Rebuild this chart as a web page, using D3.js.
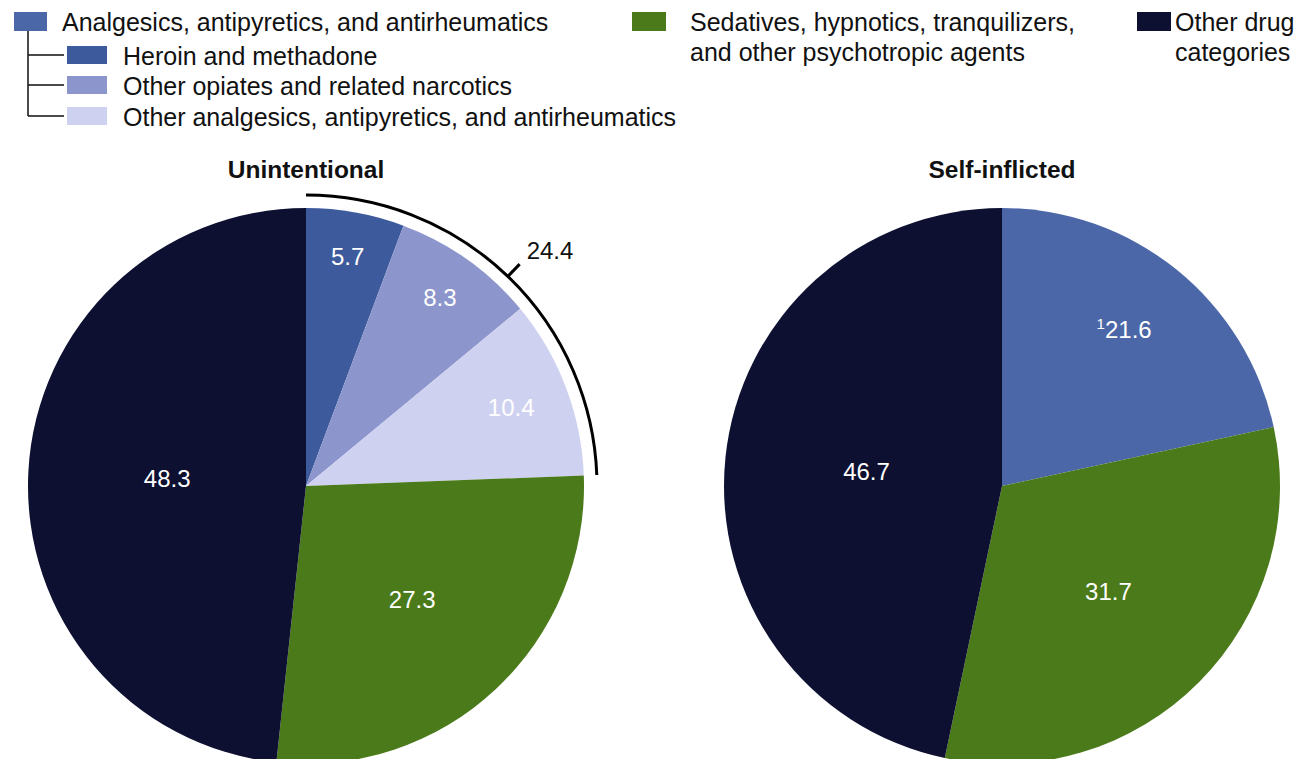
<!DOCTYPE html>
<html>
<head>
<meta charset="utf-8">
<script src="https://cdn.jsdelivr.net/npm/d3@7"></script>
<style>
  html, body { margin: 0; padding: 0; background: #ffffff; }
  svg { display: block; font-family: "Liberation Sans", Arial, sans-serif; }
</style>
</head>
<body>
<svg id="chart" width="1305" height="759"></svg>
<script>
// Drug categories and colours
const categories = [
  "Heroin and methadone",
  "Other opiates and related narcotics",
  "Other analgesics, antipyretics, and antirheumatics",
  "Sedatives, hypnotics, tranquilizers, and other psychotropic agents",
  "Other drug categories"
];
const analgesicGroup = "Analgesics, antipyretics, and antirheumatics";

// Percent of poisoning deaths, unintentional (analgesics split into sub-groups)
const unintentionalKeys   = ["heroin", "opiates", "otherAnalgesics", "sedatives", "other"];
const unintentionalValues = [5.7, 8.3, 10.4, 27.3, 48.3];
const unintentionalTotalAnalgesics = 24.4;

// Percent of poisoning deaths, self-inflicted (analgesics as a single group)
const selfInflictedKeys   = ["analgesics", "sedatives", "other"];
const selfInflictedValues = [21.6, 31.7, 46.7];
const selfInflictedFootnote = ["1", "", ""];

const colors = {
  analgesics: "#4b67a8",
  heroin: "#3d5a9c",
  opiates: "#8c95cc",
  otherAnalgesics: "#cfd1f0",
  sedatives: "#4a7a1a",
  other: "#0d1030"
};

const svg = d3.select("#chart");
const R = 278;
const cy = 486;

const pie = d3.pie().sort(null).value(d => d.value);
const arc = d3.arc().innerRadius(0).outerRadius(R);

// Label distance from centre, as a fraction of radius, by slice key
const labelFrac = {
  unintentional: { heroin: 0.84, opiates: 0.83, otherAnalgesics: 0.79, sedatives: 0.56, other: 0.5 },
  selfInflicted: { analgesics: 0.7, sedatives: 0.54, other: 0.49 }
};

function drawPie(cx, title, keys, values, fracs, prefixes) {
  const g = svg.append("g").attr("transform", `translate(${cx},${cy})`);
  const data = keys.map((k, i) => ({ key: k, value: values[i], prefix: prefixes ? prefixes[i] : "" }));
  const arcs = pie(data);
  g.selectAll("path.slice").data(arcs).join("path")
    .attr("class", "slice")
    .attr("d", arc)
    .attr("fill", d => colors[d.data.key]);

  g.selectAll("text.val").data(arcs).join("text")
    .attr("class", "val")
    .attr("transform", d => {
      const a = (d.startAngle + d.endAngle) / 2;
      const r = R * fracs[d.data.key];
      return `translate(${r * Math.sin(a)},${-r * Math.cos(a)})`;
    })
    .attr("text-anchor", "middle")
    .attr("dy", "0.35em")
    .attr("fill", "#ffffff")
    .attr("font-size", 24)
    .each(function (d) {
      const t = d3.select(this);
      if (d.data.prefix) {
        t.append("tspan").attr("font-size", 15).attr("dy", "-0.4em").text(d.data.prefix);
        t.append("tspan").attr("dy", "0.4em").text(d.data.value.toFixed(1));
      } else {
        t.text(d.data.value.toFixed(1));
      }
    });

  svg.append("text")
    .attr("x", cx).attr("y", 178)
    .attr("text-anchor", "middle")
    .attr("font-weight", "bold")
    .attr("font-size", 24.5)
    .attr("fill", "#111")
    .text(title);
  return { g, arcs };
}

// Unintentional pie with bracket grouping the analgesic sub-slices
const left = drawPie(306, "Unintentional", unintentionalKeys, unintentionalValues, labelFrac.unintentional);
const groupEnd = d3.sum(unintentionalValues.slice(0, 3)) / d3.sum(unintentionalValues) * 2 * Math.PI;
const bracketR = 291;
left.g.append("path")
  .attr("d", d3.arc().innerRadius(bracketR).outerRadius(bracketR)({ startAngle: 0, endAngle: groupEnd }))
  .attr("fill", "none")
  .attr("stroke", "#000")
  .attr("stroke-width", 3);
const midA = groupEnd / 2;
left.g.append("line")
  .attr("x1", bracketR * Math.sin(midA)).attr("y1", -bracketR * Math.cos(midA))
  .attr("x2", (bracketR + 17) * Math.sin(midA)).attr("y2", -(bracketR + 17) * Math.cos(midA))
  .attr("stroke", "#000").attr("stroke-width", 3);
left.g.append("text")
  .attr("x", (bracketR + 17) * Math.sin(midA) + 7)
  .attr("y", -(bracketR + 17) * Math.cos(midA) - 5)
  .attr("font-size", 24)
  .attr("fill", "#111")
  .text(unintentionalTotalAnalgesics.toFixed(1));

// Self-inflicted pie
drawPie(1002, "Self-inflicted", selfInflictedKeys, selfInflictedValues, labelFrac.selfInflicted, selfInflictedFootnote);

// Legend
const leg = svg.append("g").attr("font-size", 25).attr("fill", "#111");
const sw = (x, y, w, h, c) => leg.append("rect").attr("x", x).attr("y", y).attr("width", w).attr("height", h).attr("fill", c);
const tx = (x, y, s) => leg.append("text").attr("x", x).attr("y", y).attr("fill", "#111").text(s);

sw(14, 12, 33, 19, colors.analgesics);
tx(62, 31, analgesicGroup);
// tree connector for sub-groups
leg.append("path")
  .attr("d", "M28,31V116 M28,55H64 M28,85H64 M28,116H64")
  .attr("fill", "none").attr("stroke", "#111").attr("stroke-width", 1.5);
const subKeys = ["heroin", "opiates", "otherAnalgesics"];
const subY = [55, 85, 116];
subKeys.forEach((k, i) => {
  sw(67, subY[i] - 9, 40, 18, colors[k]);
  tx(123, subY[i] + 10, categories[i]);
});

sw(632, 12, 34, 19, colors.sedatives);
tx(690, 31, "Sedatives, hypnotics, tranquilizers,");
tx(690, 61, "and other psychotropic agents");

sw(1137, 12, 34, 19, colors.other);
tx(1175, 31, "Other drug");
tx(1175, 61, "categories");
</script>
</body>
</html>
